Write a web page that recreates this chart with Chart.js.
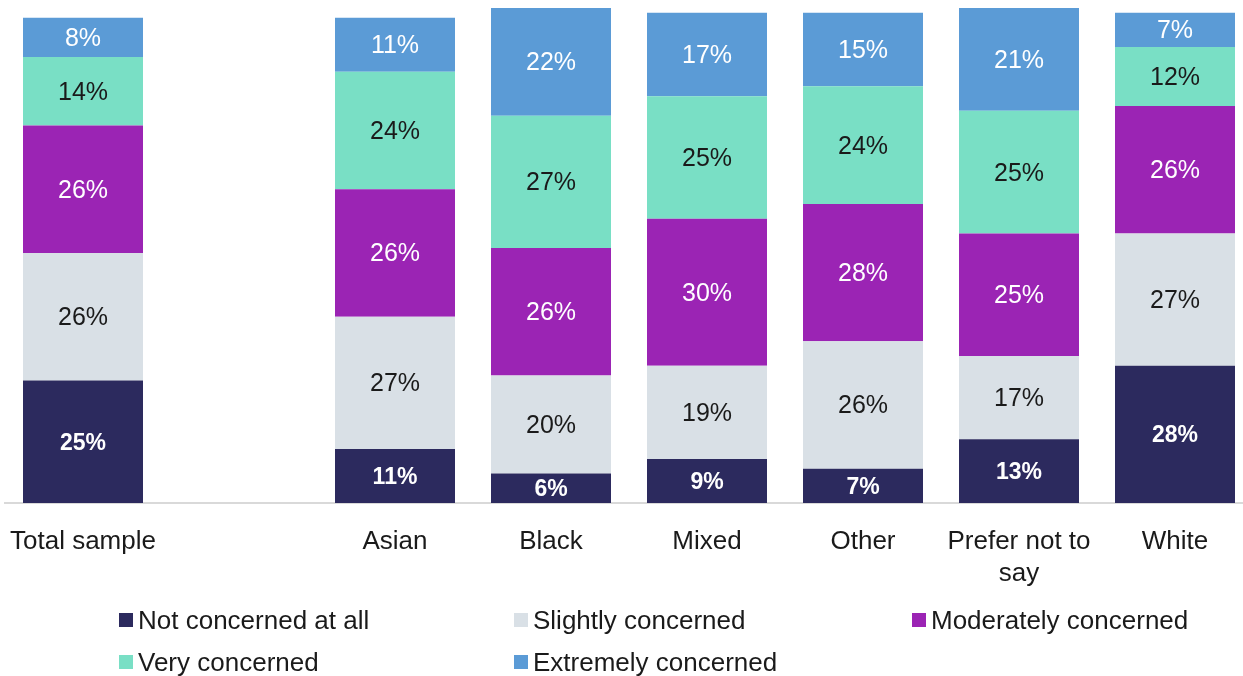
<!DOCTYPE html>
<html><head><meta charset="utf-8">
<script src="https://cdn.jsdelivr.net/npm/chart.js@4/dist/chart.umd.min.js"></script>
<style>
html,body{margin:0;padding:0;background:#fff;overflow:hidden;width:1243px;height:676px;}
#wrap{position:absolute;left:0;top:0;width:1260px;height:600px;}
#legend{position:absolute;left:0;top:0;width:1243px;height:676px;pointer-events:none;font-family:"Liberation Sans",Arial,sans-serif;font-size:26px;color:#1a1a1a;}
.item{position:absolute;display:flex;align-items:center;white-space:nowrap;height:30px;}
.box{width:14px;height:14px;margin-right:5px;flex:none;}
</style></head><body>
<div id="wrap"><canvas id="c" width="1260" height="600"></canvas></div>
<div id="legend"></div>
<script>
const categories = ['Total sample', '', 'Asian', 'Black', 'Mixed', 'Other', ['Prefer not to', 'say'], 'White'];
const seriesNames = ['Not concerned at all', 'Slightly concerned', 'Moderately concerned', 'Very concerned', 'Extremely concerned'];
const notConcerned   = [25, null, 11, 6, 9, 7, 13, 28];
const slightly       = [26, null, 27, 20, 19, 26, 17, 27];
const moderately     = [26, null, 26, 26, 30, 28, 25, 26];
const very           = [14, null, 24, 27, 25, 24, 25, 12];
const extremely      = [8, null, 11, 22, 17, 15, 21, 7];

const seriesValues = [notConcerned, slightly, moderately, very, extremely];
const fillColors = ['#2c2a5e', '#d9e0e6', '#9b24b4', '#79dfc5', '#5b9bd6'];
const labelColors = ['#ffffff', '#1a1a1a', '#ffffff', '#1a1a1a', '#ffffff'];
const labelBold = [true, false, false, false, false];

const segLabels = {
  id: 'segLabels',
  afterDatasetsDraw(chart) {
    const ctx = chart.ctx;
    chart.data.datasets.forEach((ds, i) => {
      const meta = chart.getDatasetMeta(i);
      meta.data.forEach((el, j) => {
        const v = ds.data[j];
        if (v == null) return;
        const p = el.getProps(['x', 'y', 'base'], true);
        ctx.save();
        ctx.font = labelBold[i] ? 'bold 23px "Liberation Sans", Arial, sans-serif' : '25px "Liberation Sans", Arial, sans-serif';
        ctx.fillStyle = labelColors[i];
        ctx.textAlign = 'center';
        ctx.textBaseline = 'middle';
        ctx.fillText(v + '%', p.x, (p.y + p.base) / 2 + 1.5);
        ctx.restore();
      });
    });
  }
};

const chart = new Chart(document.getElementById('c'), {
  type: 'bar',
  data: {
    labels: categories,
    datasets: seriesValues.map((vals, i) => ({
      label: seriesNames[i],
      data: vals,
      backgroundColor: fillColors[i],
      borderWidth: 0,
      barPercentage: 120 / 156,
      categoryPercentage: 1
    }))
  },
  options: {
    responsive: false,
    animation: false,
    layout: { padding: { left: 5, right: 7, top: 3, bottom: 0 } },
    plugins: { legend: { display: false }, tooltip: { enabled: false } },
    scales: {
      x: {
        stacked: true,
        grid: { display: false },
        border: { display: true, color: '#d9d9d9', width: 2 },
        ticks: {
          color: '#1a1a1a',
          padding: 15,
          maxRotation: 0,
          autoSkip: false,
          font: { family: '"Liberation Sans", Arial, sans-serif', size: 26, lineHeight: 1.23 }
        },
        afterFit(scale) {
          scale.height = 97;
          scale.paddingLeft = 0;
          scale.paddingRight = 0;
        }
      },
      y: {
        stacked: true,
        display: false,
        min: 0,
        max: 102
      }
    }
  },
  plugins: [segLabels]
});

// HTML legend in a grid like the original
const legendSlots = [[119, 620], [514, 620], [912, 620], [119, 662], [514, 662]];
const leg = document.getElementById('legend');
chart.data.datasets.forEach((ds, i) => {
  const it = document.createElement('div');
  it.className = 'item';
  it.style.left = legendSlots[i][0] + 'px';
  it.style.top = (legendSlots[i][1] - 15) + 'px';
  const b = document.createElement('span');
  b.className = 'box';
  b.style.background = ds.backgroundColor;
  const t = document.createElement('span');
  t.textContent = ds.label;
  it.appendChild(b); it.appendChild(t);
  leg.appendChild(it);
});
</script>
</body></html>
